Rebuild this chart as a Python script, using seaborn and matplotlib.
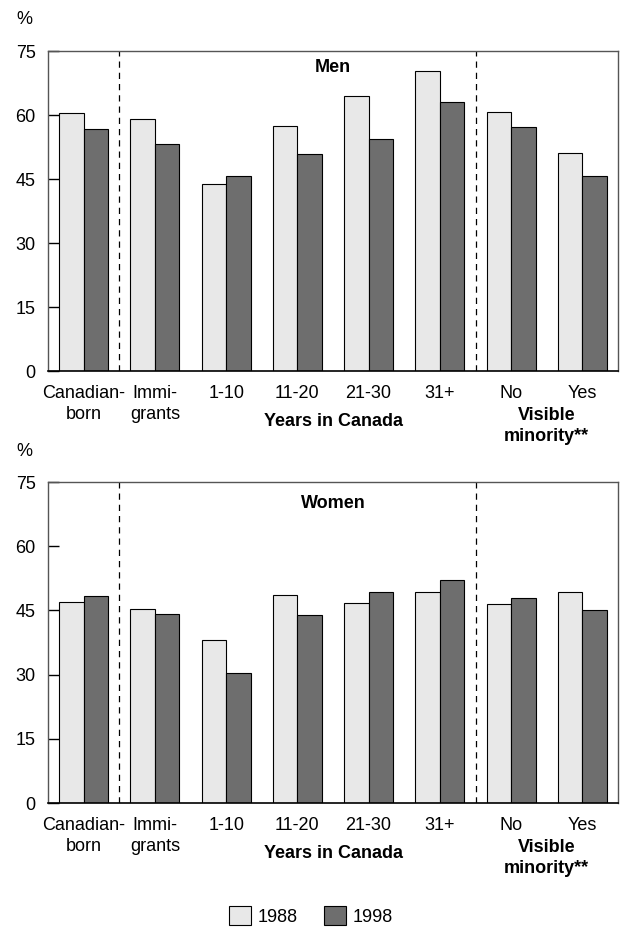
import matplotlib
matplotlib.use("Agg")
import matplotlib.pyplot as plt
import seaborn as sns
import pandas as pd
from matplotlib.patches import Patch

categories = ["Canadian-\nborn", "Immi-\ngrants", "1-10", "11-20", "21-30", "31+", "No", "Yes"]
years = ["1988", "1998"]
men_1988 = [60.5, 59.0, 43.9, 57.5, 64.5, 70.2, 60.8, 51.2]
men_1998 = [56.7, 53.1, 45.8, 50.8, 54.3, 63.0, 57.1, 45.8]
women_1988 = [47.0, 45.4, 38.0, 48.6, 46.8, 49.4, 46.6, 49.2]
women_1998 = [48.3, 44.1, 30.4, 43.9, 49.3, 52.1, 47.8, 45.1]
yticks = [0, 15, 30, 45, 60, 75]

sns.set_theme(style="white")
plt.rcParams['font.family'] = ['Liberation Sans', 'DejaVu Sans']
for k in ["text.color", "axes.labelcolor", "xtick.color", "ytick.color"]:
    plt.rcParams[k] = "black"

colors = {"1988": "#e8e8e8", "1998": "#6e6e6e"}
FS = 13

fig = plt.figure(figsize=(6.22, 9.30), dpi=100)
W, H = 622, 930
axes_px = [(48, 51, 570, 320), (48, 482, 570, 321)]

def make_df(v88, v98):
    rows = []
    for c, a, b in zip(categories, v88, v98):
        rows.append({"cat": c, "year": "1988", "val": a})
        rows.append({"cat": c, "year": "1998", "val": b})
    return pd.DataFrame(rows)

panels = [("Men", men_1988, men_1998, 16), ("Women", women_1988, women_1998, 21)]

for (title, v88, v98, toff), (x, y, w, h) in zip(panels, axes_px):
    ax = fig.add_axes([x / W, 1 - (y + h) / H, w / W, h / H])
    df = make_df(v88, v98)
    sns.barplot(data=df, x="cat", y="val", hue="year", palette=colors, ax=ax,
                width=0.69, edgecolor="black", linewidth=0.8, legend=False,
                order=categories, hue_order=years)
    ax.set_xlim(-0.5, len(categories) - 0.5)
    ax.set_ylim(0, 75)
    ax.set_yticks(yticks)
    ax.set_yticklabels([str(t) for t in yticks], fontsize=FS)
    ax.tick_params(axis="y", direction="in", length=8, width=1, color="black", left=True, pad=9)
    ax.tick_params(axis="x", length=0, labelsize=FS, pad=10)
    for lab in ax.get_xticklabels():
        lab.set_linespacing(1.32)
    ax.set_xlabel("")
    ax.set_ylabel("")
    for s in ["top", "right", "left"]:
        ax.spines[s].set_color("#555555")
        ax.spines[s].set_linewidth(1)
    ax.spines["bottom"].set_color("black")
    ax.spines["bottom"].set_linewidth(1.2)
    for xv in [0.5, 5.5]:
        ax.axvline(xv, color="black", linestyle=(0, (5, 4)), linewidth=0.9)
    ax.annotate(title, xy=(3.5, 1), xycoords=ax.get_xaxis_transform(),
                xytext=(0, -toff), textcoords="offset pixels",
                ha="center", va="center", fontsize=FS, fontweight="bold")
    ax.annotate("%", xy=(0, 1), xycoords="axes fraction",
                xytext=(-24, 31), textcoords="offset pixels",
                ha="center", va="center", fontsize=FS)
    ax.annotate("Years in Canada", xy=(3.5, 0), xycoords=ax.get_xaxis_transform(),
                xytext=(0, -50), textcoords="offset pixels",
                ha="center", va="center", fontsize=FS, fontweight="bold")
    ax.annotate("Visible\nminority**", xy=(6.5, 0), xycoords=ax.get_xaxis_transform(),
                xytext=(0, -55), textcoords="offset pixels",
                ha="center", va="center", fontsize=FS, fontweight="bold", linespacing=1.3)

handles = [Patch(facecolor=colors[yv], edgecolor="black", linewidth=0.8, label=yv) for yv in years]
fig.legend(handles=handles, loc="center", bbox_to_anchor=(0.5, 1 - 916 / H), ncol=2,
           frameon=False, fontsize=FS, handlelength=1.2, handleheight=1.2,
           columnspacing=1.5, handletextpad=0.35, borderpad=0.1)

fig.savefig("out.png", dpi=100)
